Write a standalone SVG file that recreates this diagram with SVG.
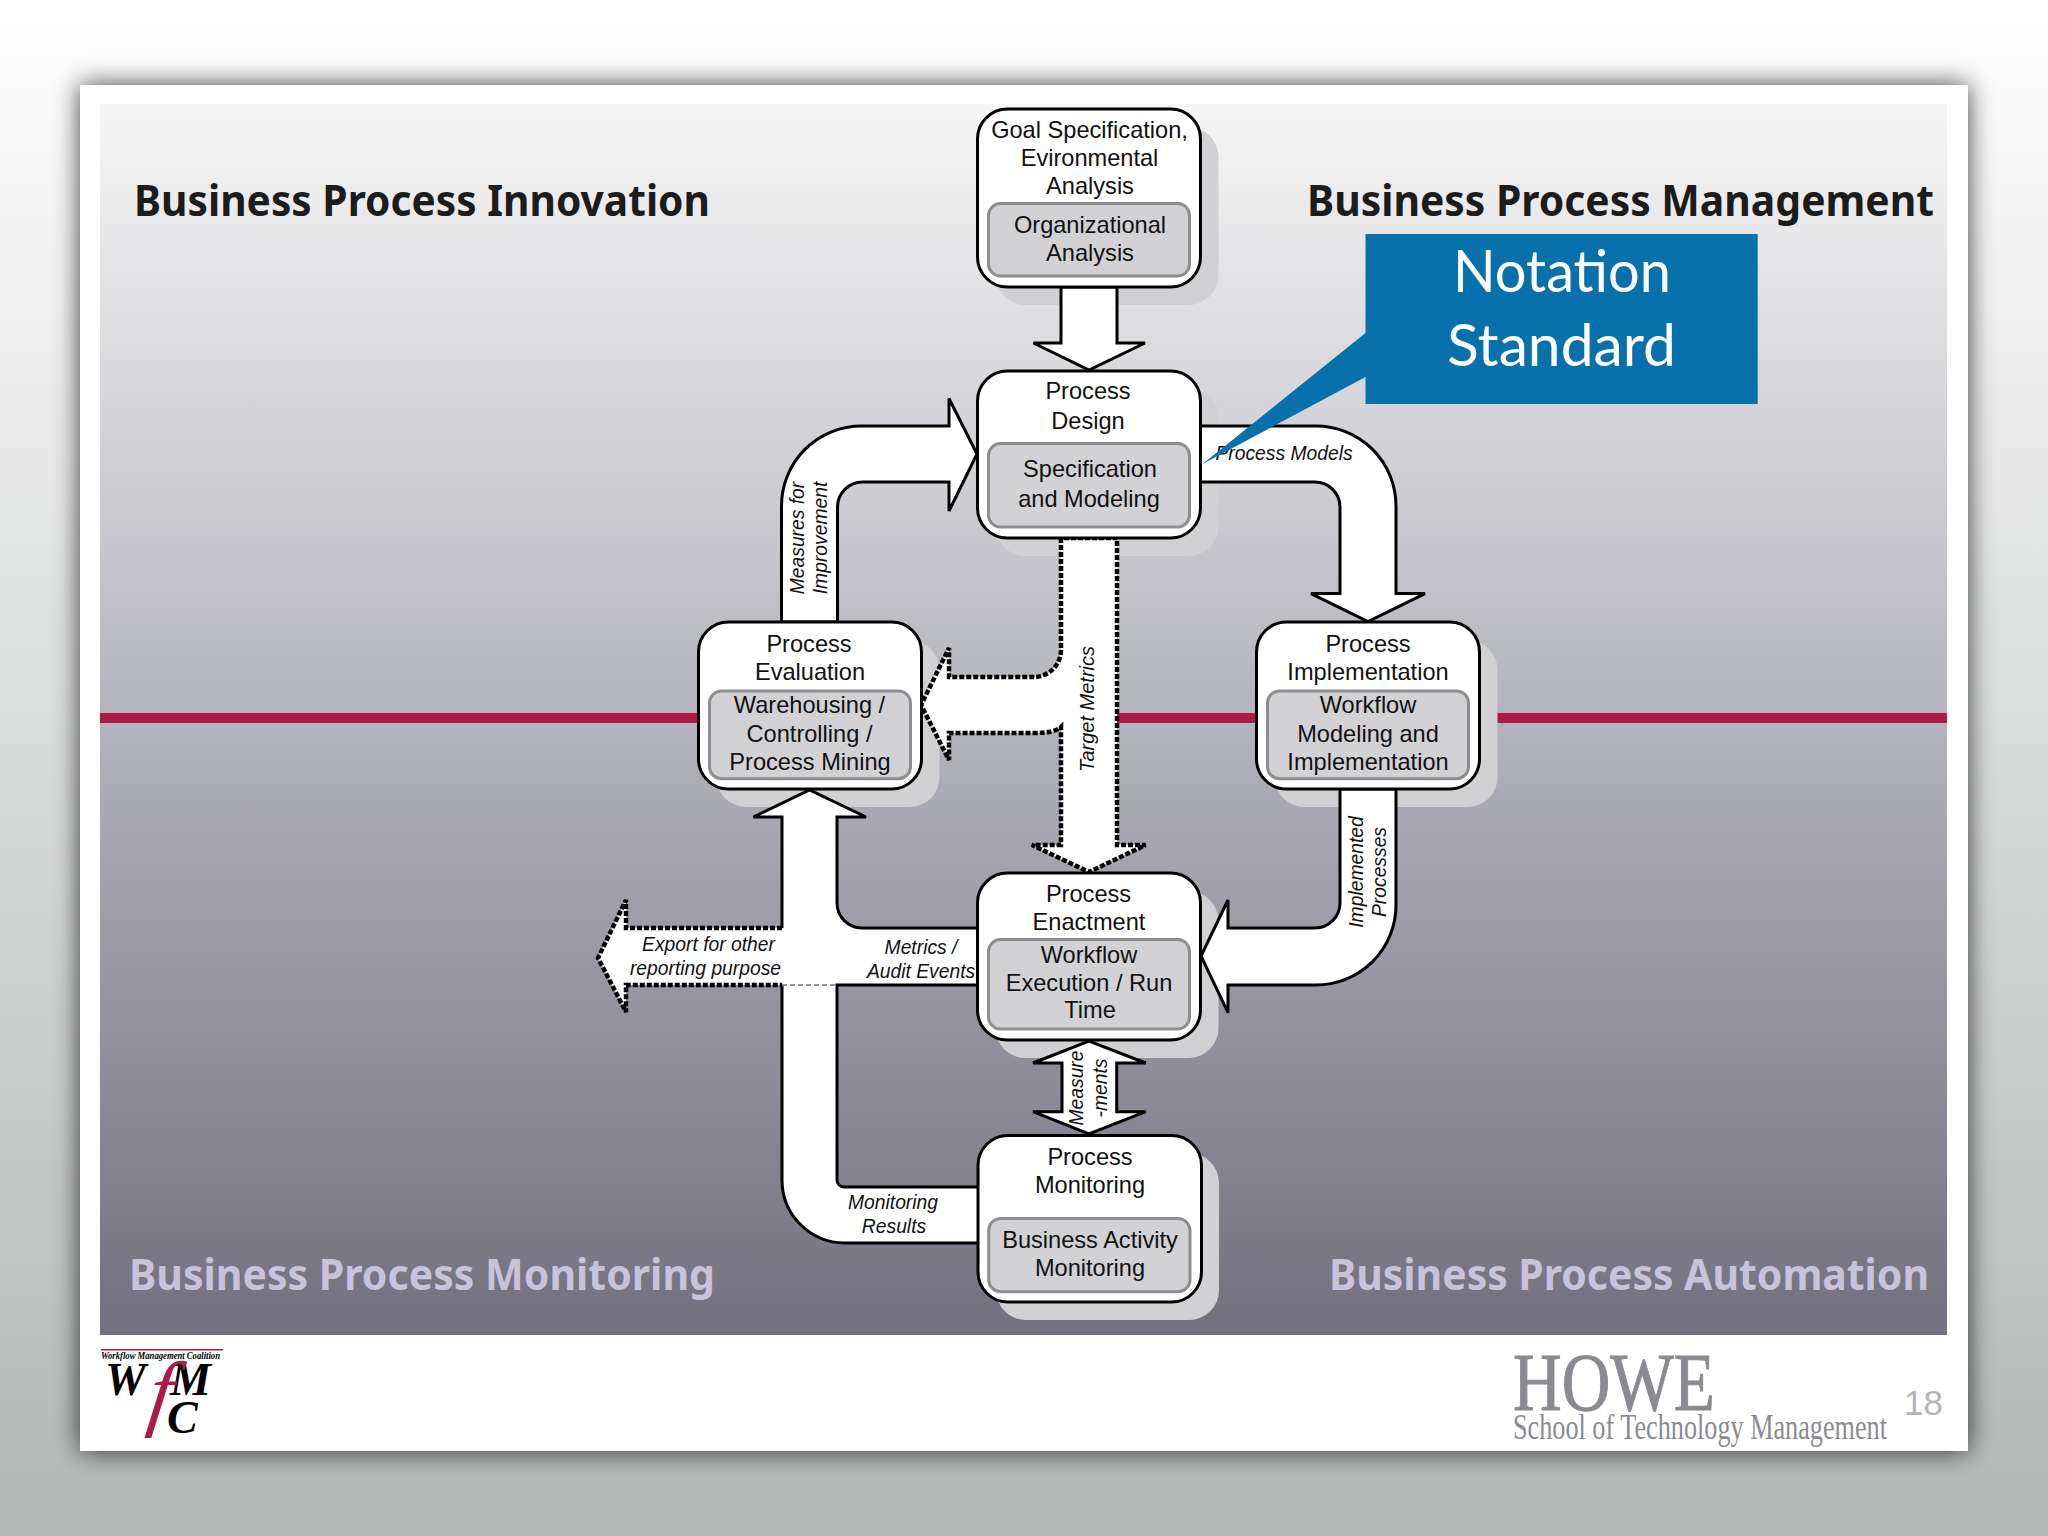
<svg xmlns="http://www.w3.org/2000/svg" width="2048" height="1536" viewBox="0 0 2048 1536">
<defs>
<linearGradient id="bg" x1="0" y1="0" x2="0" y2="1"><stop offset="0" stop-color="#ffffff"/><stop offset="0.5" stop-color="#d8d9d9"/><stop offset="1" stop-color="#b4b6b6"/></linearGradient>
<linearGradient id="panel" x1="0" y1="0" x2="0" y2="1"><stop offset="0" stop-color="#f6f6f6"/><stop offset="0.5" stop-color="#b3b3bb"/><stop offset="1" stop-color="#72707e"/></linearGradient>
<filter id="blur" x="-5%" y="-5%" width="110%" height="110%"><feGaussianBlur stdDeviation="13"/></filter>
</defs>
<style>
.box{fill:#fff;stroke:#000;stroke-width:3}
.inner{fill:#d2d2d5;stroke:#8e8e92;stroke-width:3}
.shadow{fill:#d1d1d4}
.arrow{fill:#fff;stroke:#000;stroke-width:3;stroke-linejoin:miter}
.line{fill:none;stroke:#000;stroke-width:3;stroke-linejoin:miter}
.dash{fill:none;stroke:#000;stroke-width:4.5;stroke-dasharray:5 2}
.t{font-family:"Liberation Sans",Arial,sans-serif;font-size:23.6px;fill:#111;text-anchor:middle}
.i{font-family:"Liberation Sans",Arial,sans-serif;font-size:19.3px;font-style:italic;fill:#111;text-anchor:middle}
.h{font-family:"Noto Sans","Open Sans",sans-serif;font-weight:700;font-size:43px}
.wf{font-family:"Liberation Serif",serif;font-weight:700;font-style:italic;fill:#000}
.howe{font-family:"Liberation Serif",serif;fill:#8a8b90}
.note{font-family:Lato,sans-serif;font-size:58px;fill:#fff}
</style>
<rect width="2048" height="1536" fill="url(#bg)"/>
<rect x="80" y="85" width="1888" height="1366" fill="#111" fill-opacity="0.75" filter="url(#blur)"/>
<rect x="80" y="85" width="1888" height="1366" fill="#fff"/>
<rect x="100" y="104" width="1847" height="1231" fill="url(#panel)"/>
<rect x="100" y="713" width="1847" height="10" fill="#ad1a45"/>
<text class="h" x="134" y="216" fill="#1c1c1c" textLength="576" lengthAdjust="spacingAndGlyphs">Business Process Innovation</text>
<text class="h" x="1307" y="216" fill="#1c1c1c" textLength="627" lengthAdjust="spacingAndGlyphs">Business Process Management</text>
<text class="h" x="129" y="1290" fill="#c6c3da" textLength="586" lengthAdjust="spacingAndGlyphs">Business Process Monitoring</text>
<text class="h" x="1329" y="1290" fill="#c6c3da" textLength="600" lengthAdjust="spacingAndGlyphs">Business Process Automation</text>
<g id="node-shadows">
<rect class="shadow" x="995.5" y="127" width="223" height="178" rx="30"/>
<rect class="shadow" x="995.5" y="389" width="223" height="167" rx="30"/>
<rect class="shadow" x="716.5" y="640" width="223" height="167" rx="30"/>
<rect class="shadow" x="1274.5" y="640" width="223" height="167" rx="30"/>
<rect class="shadow" x="995.5" y="891" width="223" height="167" rx="30"/>
<rect class="shadow" x="996" y="1153" width="223" height="167" rx="30"/>
</g>
<g id="connectors">
<path class="arrow" d="M1061,287 V343 H1033.5 L1089,370 L1145,343 H1117 V287 Z"/>
<path class="arrow" d="M781.5,622 V506 A80,80 0 0 1 861.5,426 H949 V398.5 L977,454 L949,511 V482 H862.5 A25,25 0 0 0 837.5,507 V622 Z"/>
<path class="arrow" d="M1200,426 H1316 A80,80 0 0 1 1396,506 V593.6 H1425 L1368,621.5 L1311,593.6 H1340 V507 A25,25 0 0 0 1315,482 H1200 Z"/>
<path class="arrow" d="M1340,789 V903 A25,25 0 0 1 1315,928 H1228 V900 L1201,956 L1228,1012.7 V985 H1316 A80,80 0 0 0 1396,905 V789 Z"/>
<path fill="#fff" d="M809.5,790 L866,817 H837 V903 A25,25 0 0 0 862,928 H977 V985 H837 V1180 A7,7 0 0 0 844,1187 H978 V1243 H845 A63,63 0 0 1 782,1180 V985 H626 V1012 L598,958 L626,900 V928 H782 V817 H753.5 Z"/>
<path class="line" d="M782,928 V817 H753.5 L809.5,790 L866,817 H837 V903 A25,25 0 0 0 862,928 H977"/>
<path class="line" d="M977,985 H837 V1180 A7,7 0 0 0 844,1187 H978"/>
<path class="line" d="M978,1243 H845 A63,63 0 0 1 782,1180 V985"/>
<path class="dash" d="M782,928 H626 V900 L598,958 L626,1012 V985 H782"/>
<path d="M782,985 H837" fill="none" stroke="#777" stroke-width="1.5" stroke-dasharray="5 3"/>
<path class="arrow" d="M1062,1111.7 H1033 L1089,1134 L1145.7,1111.7 H1116.7 V1063 H1145.7 L1089,1041 L1033,1063 H1062 Z"/>
<path fill="#fff" d="M1061,538 V650 A27,27 0 0 1 1034,677 H949 V648 L921,705 L949,760 V733 H1034 Q1055,733 1061,727 V845 H1032 L1089,872 L1145.6,845 H1117 V538 Z"/>
<path class="dash" d="M1061,538 V650 A27,27 0 0 1 1034,677 H949 V648 L921,705 L949,760 V733 H1034 Q1055,733 1061,727 V845 H1032 L1089,872 L1145.6,845 H1117 V538 Z"/>
<text class="i" transform="translate(804,538) rotate(-90)">Measures for</text>
<text class="i" transform="translate(827,538) rotate(-90)">Improvement</text>
<text class="i" x="1284" y="460">Process Models</text>
<text class="i" style="font-size:20px" transform="translate(1094,709) rotate(-90)">Target Metrics</text>
<text class="i" transform="translate(1363,872) rotate(-90)">Implemented</text>
<text class="i" transform="translate(1386,872) rotate(-90)">Processes</text>
<text class="i" transform="translate(1083,1088) rotate(-90)">Measure</text>
<text class="i" transform="translate(1107,1088) rotate(-90)">-ments</text>
<text class="i" x="708.5" y="951">Export for other</text>
<text class="i" x="705.5" y="975">reporting purpose</text>
<text class="i" x="921" y="954">Metrics /</text>
<text class="i" x="921" y="978">Audit Events</text>
<text class="i" x="893" y="1209">Monitoring</text>
<text class="i" x="894" y="1233">Results</text>
</g>
<g id="node-goal">
<rect class="box" x="977.5" y="109" width="223" height="178" rx="30"/>
<rect class="inner" x="988.5" y="203.5" width="201" height="72.5" rx="12"/>
<text class="t" x="1089.5" y="138">Goal Specification,</text>
<text class="t" x="1089.5" y="166">Evironmental</text>
<text class="t" x="1090" y="194">Analysis</text>
<text class="t" x="1090" y="232.5">Organizational</text>
<text class="t" x="1090" y="260.5">Analysis</text>
</g>
<g id="node-design">
<rect class="box" x="977.5" y="371" width="223" height="167" rx="30"/>
<rect class="inner" x="988.5" y="443.5" width="201" height="83.5" rx="12"/>
<text class="t" x="1088" y="399">Process</text>
<text class="t" x="1088" y="428.5">Design</text>
<text class="t" x="1090" y="477">Specification</text>
<text class="t" x="1089" y="507">and Modeling</text>
</g>
<g id="node-evaluation">
<rect class="box" x="698.5" y="622" width="223" height="167" rx="30"/>
<rect class="inner" x="709.5" y="691" width="201" height="87.7" rx="12"/>
<text class="t" x="809" y="651.5">Process</text>
<text class="t" x="810" y="679.5">Evaluation</text>
<text class="t" x="809.5" y="713">Warehousing /</text>
<text class="t" x="809.5" y="742">Controlling /</text>
<text class="t" x="810" y="770">Process Mining</text>
</g>
<g id="node-implementation">
<rect class="box" x="1256.5" y="622" width="223" height="167" rx="30"/>
<rect class="inner" x="1267.5" y="691" width="201" height="87.7" rx="12"/>
<text class="t" x="1368" y="651.5">Process</text>
<text class="t" x="1368" y="679.5">Implementation</text>
<text class="t" x="1368" y="713">Workflow</text>
<text class="t" x="1368" y="742">Modeling and</text>
<text class="t" x="1368" y="770">Implementation</text>
</g>
<g id="node-enactment">
<rect class="box" x="977.5" y="873" width="223" height="167" rx="30"/>
<rect class="inner" x="988.5" y="939.5" width="201" height="89.5" rx="12"/>
<text class="t" x="1088.5" y="902">Process</text>
<text class="t" x="1089" y="930">Enactment</text>
<text class="t" x="1089" y="963">Workflow</text>
<text class="t" x="1089" y="991">Execution / Run</text>
<text class="t" x="1090" y="1018">Time</text>
</g>
<g id="node-monitoring">
<rect class="box" x="978" y="1135.5" width="223.5" height="166.5" rx="30"/>
<rect class="inner" x="988.7" y="1218.5" width="201.3" height="73.2" rx="12"/>
<text class="t" x="1090" y="1165">Process</text>
<text class="t" x="1090" y="1193">Monitoring</text>
<text class="t" x="1090" y="1247.5">Business Activity</text>
<text class="t" x="1090" y="1275.5">Monitoring</text>
</g>
<g id="callout">
<path fill="#0870ab" d="M1365.5,234 H1757.7 V404 H1365.5 V377 L1202.5,464 L1365.5,333 Z"/>
<text class="note" x="1453" y="292" textLength="218" lengthAdjust="spacingAndGlyphs">Notation</text>
<text class="note" x="1447" y="366" textLength="229" lengthAdjust="spacingAndGlyphs">Standard</text>
</g>
<g id="logo-wfmc">
<rect x="101" y="1349" width="122" height="1.5" fill="#ad1a45"/>
<text class="wf" x="101" y="1359" font-size="10.5" textLength="119" lengthAdjust="spacingAndGlyphs">Workflow Management Coalition</text>
<text class="wf" x="105" y="1395" font-size="46">W</text>
<text class="wf" x="170" y="1395" font-size="46">M</text>
<text transform="translate(146,1420) skewX(-8)" font-family="'Liberation Serif', serif" font-style="italic" font-size="84" fill="#ad1a45">f</text>
<text class="wf" x="167" y="1433" font-size="46">C</text>
</g>
<g id="logo-howe">
<text class="howe" x="1513" y="1410" font-size="83" stroke="#8a8b90" stroke-width="1" textLength="202" lengthAdjust="spacingAndGlyphs">HOWE</text>
<text class="howe" x="1513" y="1439" font-size="36" textLength="374" lengthAdjust="spacingAndGlyphs">School of Technology Management</text>
</g>
<text x="1904" y="1415" font-family="Liberation Sans, sans-serif" font-size="35" fill="#b5b5b8">18</text>
</svg>
